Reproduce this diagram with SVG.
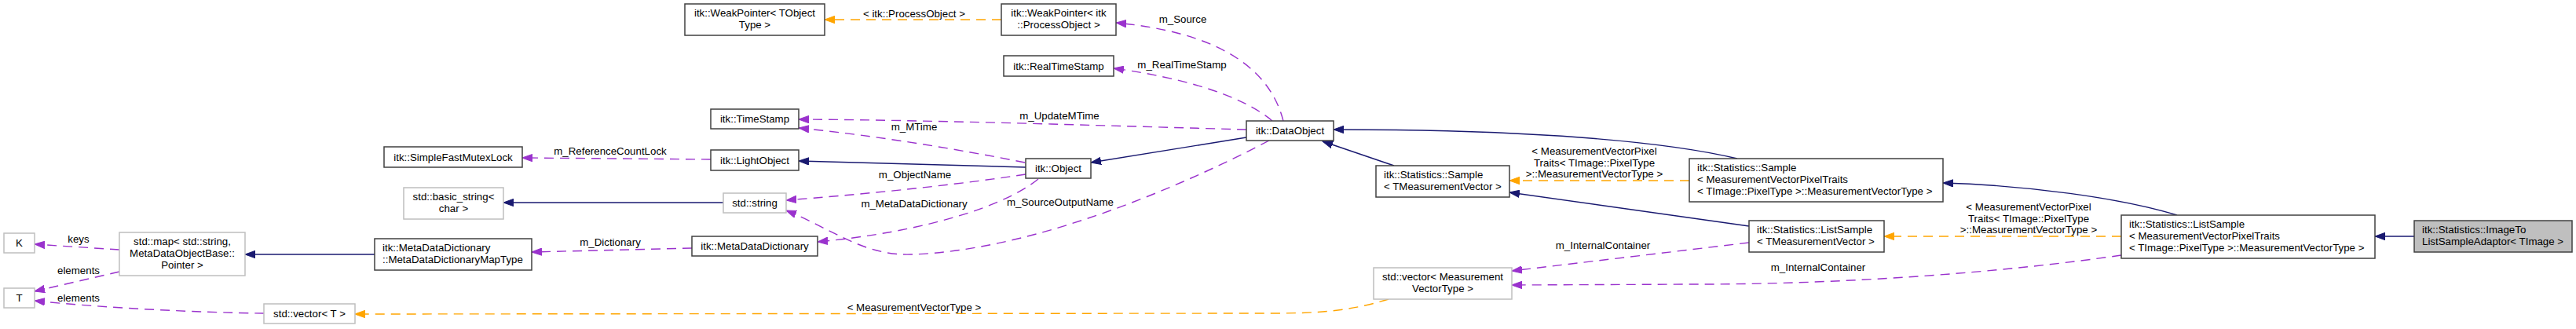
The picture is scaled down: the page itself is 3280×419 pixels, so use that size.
<svg xmlns="http://www.w3.org/2000/svg" width="3280" height="419" viewBox="0 0 3280 419">
<style>
  .bg { fill: #ffffff; }
  .n rect { fill: #ffffff; stroke: #404040; stroke-width: 1.5; }
  .g rect { fill: #ffffff; stroke: #bfbfbf; stroke-width: 1.5; }
  .hl rect { fill: #bfbfbf; stroke: #404040; stroke-width: 1.5; }
  text { font-family: "Liberation Sans", Arial, Helvetica, sans-serif; font-size: 13.3px; fill: #000000; }
  .c { text-anchor: middle; }
  .e { fill: none; stroke-width: 1.4; }
  .inh { stroke: #191970; marker-end: url(#an); }
  .use { stroke: #9a32cd; stroke-dasharray: 12,8; marker-end: url(#ap); }
  .tpl { stroke: #ffa500; stroke-dasharray: 12,8; marker-end: url(#ao); }
</style>
<defs>
  <marker id="an" markerUnits="userSpaceOnUse" markerWidth="14" markerHeight="10" refX="13" refY="5" orient="auto">
    <path d="M0,0.3 L13,5 L0,9.7 z" fill="#191970" stroke="#191970" stroke-width="1"/>
  </marker>
  <marker id="ap" markerUnits="userSpaceOnUse" markerWidth="14" markerHeight="10" refX="13" refY="5" orient="auto">
    <path d="M0,0.3 L13,5 L0,9.7 z" fill="#9a32cd" stroke="#9a32cd" stroke-width="1"/>
  </marker>
  <marker id="ao" markerUnits="userSpaceOnUse" markerWidth="14" markerHeight="10" refX="13" refY="5" orient="auto">
    <path d="M0,0.3 L13,5 L0,9.7 z" fill="#ffa500" stroke="#ffa500" stroke-width="1"/>
  </marker>
</defs>
<rect class="bg" x="0" y="0" width="3280" height="419"/>

<g id="connectors">
  <path class="e inh" d="M3074,301 L3024,301"/>
  <path class="e inh" d="M2772,274 C2700,252 2580,236 2474,233"/>
  <path class="e use" d="M2701,325 C2550,347 2350,362 2160,362 L1925,363"/>
  <text class="c" x="2315" y="345">m_InternalContainer</text>
  <path class="e tpl" d="M2701,301 L2399,301"/>
  <text class="c" x="2583" y="268">&lt; MeasurementVectorPixel</text>
  <text class="c" x="2583" y="282.5">Traits&lt; TImage::PixelType</text>
  <text class="c" x="2583" y="297"> &gt;::MeasurementVectorType &gt;</text>
  <path class="e inh" d="M2212,202 C2120,180 1950,165 1698,165"/>
  <path class="e tpl" d="M2151,230 L1922,230"/>
  <text class="c" x="2030" y="197">&lt; MeasurementVectorPixel</text>
  <text class="c" x="2030" y="211.5">Traits&lt; TImage::PixelType</text>
  <text class="c" x="2030" y="226"> &gt;::MeasurementVectorType &gt;</text>
  <path class="e inh" d="M2227,288 L1922,245"/>
  <path class="e use" d="M2227,309 L1925,345"/>
  <text class="c" x="2041" y="316.5">m_InternalContainer</text>
  <path class="e inh" d="M1775,211 L1684,180"/>
  <path class="e inh" d="M1587,175 L1389,207"/>
  <path class="e use" d="M1587,165 C1400,160 1200,153 1017,152"/>
  <text class="c" x="1349" y="151.5">m_UpdateMTime</text>
  <path class="e use" d="M1305,207 C1220,190 1110,172 1017,163"/>
  <text class="c" x="1164" y="165.5">m_MTime</text>
  <path class="e inh" d="M1306,213 L1017,205"/>
  <path class="e use" d="M1306,222 C1200,238 1090,248 1001,255"/>
  <text class="c" x="1165" y="226.5">m_ObjectName</text>
  <path class="e use" d="M1322,228 C1280,262 1180,295 1041,308"/>
  <text class="c" x="1164" y="263.5">m_MetaDataDictionary</text>
  <path class="e use" d="M1616,179 C1480,250 1300,320 1160,324 C1100,326 1060,292 1001,268"/>
  <text class="c" x="1350" y="261.5">m_SourceOutputName</text>
  <path class="e use" d="M1620,154 C1580,120 1500,98 1418,87"/>
  <text class="c" x="1505" y="86.5">m_RealTimeStamp</text>
  <path class="e use" d="M1634,154 C1615,80 1540,40 1421,29"/>
  <text class="c" x="1506" y="28.5">m_Source</text>
  <path class="e tpl" d="M1275,25 L1050,25"/>
  <text class="c" x="1164" y="21.5">&lt; itk::ProcessObject &gt;</text>
  <path class="e use" d="M905,203 L665,201"/>
  <text class="c" x="777" y="196.5">m_ReferenceCountLock</text>
  <path class="e inh" d="M921,258 L641,258"/>
  <path class="e use" d="M881,316 L677,321"/>
  <text class="c" x="777" y="312.5">m_Dictionary</text>
  <path class="e inh" d="M477,324 L312,324"/>
  <path class="e use" d="M152,318 L44,311"/>
  <text class="c" x="100" y="308.5">keys</text>
  <path class="e use" d="M152,346 L44,371"/>
  <text class="c" x="100" y="348.5">elements</text>
  <path class="e use" d="M336,399 C250,398 130,392 44,383"/>
  <text class="c" x="100" y="383.5">elements</text>
  <path class="e tpl" d="M1768,381 C1720,396 1680,399 1620,399 L452,400"/>
  <text class="c" x="1164" y="396">&lt; MeasurementVectorType &gt;</text>
</g>

<g id="node_adaptor" class="hl">
  <rect x="3074" y="281" width="201" height="40"/>
  <text x="3084" y="297">itk::Statistics::ImageTo</text>
  <text x="3084" y="312">ListSampleAdaptor&lt; TImage &gt;</text>
</g>
<g id="node_listsample_mvpt" class="n">
  <rect x="2701" y="274" width="323" height="55"/>
  <text x="2711" y="290">itk::Statistics::ListSample</text>
  <text x="2711" y="305">&lt; MeasurementVectorPixelTraits</text>
  <text x="2711" y="320">&lt; TImage::PixelType &gt;::MeasurementVectorType &gt;</text>
</g>
<g id="node_sample_mvpt" class="n">
  <rect x="2151" y="202" width="323" height="55"/>
  <text x="2161" y="218">itk::Statistics::Sample</text>
  <text x="2161" y="233">&lt; MeasurementVectorPixelTraits</text>
  <text x="2161" y="248">&lt; TImage::PixelType &gt;::MeasurementVectorType &gt;</text>
</g>
<g id="node_listsample_tmv" class="n">
  <rect x="2227" y="281" width="172" height="40"/>
  <text x="2237" y="297">itk::Statistics::ListSample</text>
  <text x="2237" y="312">&lt; TMeasurementVector &gt;</text>
</g>
<g id="node_sample_tmv" class="n">
  <rect x="1752" y="211" width="170" height="40"/>
  <text x="1762" y="227">itk::Statistics::Sample</text>
  <text x="1762" y="242">&lt; TMeasurementVector &gt;</text>
</g>
<g id="node_vector_mvt" class="g">
  <rect x="1749" y="341" width="176" height="40"/>
  <text class="c" x="1837" y="357">std::vector&lt; Measurement</text>
  <text class="c" x="1837" y="372">VectorType &gt;</text>
</g>
<g id="node_dataobject" class="n">
  <rect x="1587" y="154" width="111" height="25"/>
  <text class="c" x="1642.5" y="171">itk::DataObject</text>
</g>
<g id="node_object" class="n">
  <rect x="1306" y="202" width="83" height="25"/>
  <text class="c" x="1347.5" y="219">itk::Object</text>
</g>
<g id="node_weakpointer_po" class="n">
  <rect x="1275" y="5" width="146" height="40"/>
  <text class="c" x="1348" y="21">itk::WeakPointer&lt; itk</text>
  <text class="c" x="1348" y="36">::ProcessObject &gt;</text>
</g>
<g id="node_realtimestamp" class="n">
  <rect x="1278" y="71" width="140" height="26"/>
  <text class="c" x="1348" y="88.5">itk::RealTimeStamp</text>
</g>
<g id="node_weakpointer_t" class="n">
  <rect x="872" y="5" width="178" height="40"/>
  <text class="c" x="961" y="21">itk::WeakPointer&lt; TObject</text>
  <text class="c" x="961" y="36">Type &gt;</text>
</g>
<g id="node_timestamp" class="n">
  <rect x="905" y="139" width="112" height="25"/>
  <text class="c" x="961" y="156">itk::TimeStamp</text>
</g>
<g id="node_lightobject" class="n">
  <rect x="905" y="191" width="112" height="26"/>
  <text class="c" x="961" y="208.5">itk::LightObject</text>
</g>
<g id="node_string" class="g">
  <rect x="921" y="246" width="80" height="25"/>
  <text class="c" x="961" y="263">std::string</text>
</g>
<g id="node_metadatadictionary" class="n">
  <rect x="881" y="301" width="160" height="25"/>
  <text class="c" x="961" y="318">itk::MetaDataDictionary</text>
</g>
<g id="node_mutexlock" class="n">
  <rect x="489" y="187" width="176" height="26"/>
  <text class="c" x="577" y="204.5">itk::SimpleFastMutexLock</text>
</g>
<g id="node_basic_string" class="g">
  <rect x="514" y="239" width="127" height="40"/>
  <text class="c" x="577.5" y="255">std::basic_string&lt;</text>
  <text class="c" x="577.5" y="270">char &gt;</text>
</g>
<g id="node_maptype" class="n">
  <rect x="477" y="304" width="200" height="40"/>
  <text x="487" y="320">itk::MetaDataDictionary</text>
  <text x="487" y="335">::MetaDataDictionaryMapType</text>
</g>
<g id="node_std_map" class="g">
  <rect x="152" y="296" width="160" height="55"/>
  <text class="c" x="232" y="312">std::map&lt; std::string,</text>
  <text class="c" x="232" y="327"> MetaDataObjectBase::</text>
  <text class="c" x="232" y="342">Pointer &gt;</text>
</g>
<g id="node_vector_t" class="g">
  <rect x="336" y="387" width="116" height="25"/>
  <text class="c" x="394" y="404">std::vector&lt; T &gt;</text>
</g>
<g id="node_k" class="g">
  <rect x="5" y="297" width="39" height="25"/>
  <text class="c" x="24.5" y="314">K</text>
</g>
<g id="node_t" class="g">
  <rect x="5" y="367" width="39" height="25"/>
  <text class="c" x="24.5" y="384">T</text>
</g>
</svg>
